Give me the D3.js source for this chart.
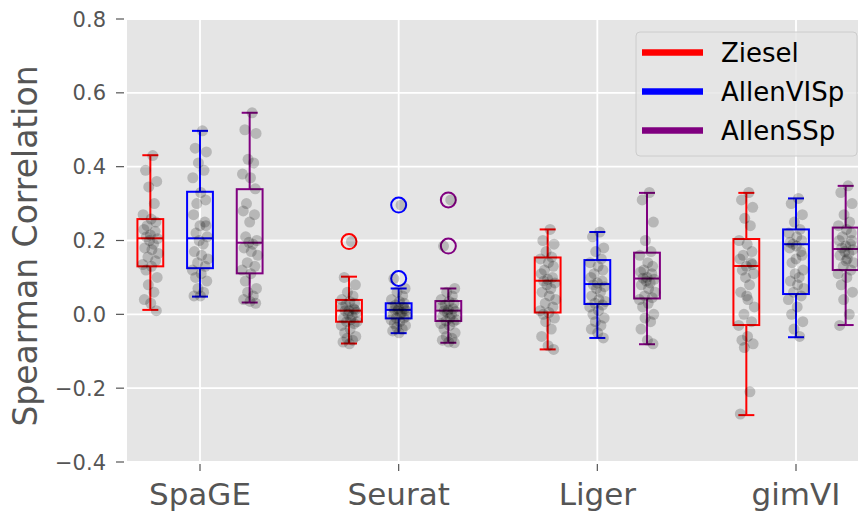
<!DOCTYPE html>
<html>
<head>
<meta charset="utf-8">
<script src="https://cdn.jsdelivr.net/npm/d3@7"></script>
<style>
  body { margin: 0; background: #ffffff; }
  svg { display: block; font-family: "DejaVu Sans", sans-serif; }
</style>
</head>
<body>
<svg id="chart" width="858" height="513"></svg>
<script>
// categories
var methods = ["SpaGE", "Seurat", "Liger", "gimVI"];
var datasets = ["Ziesel", "AllenVISp", "AllenSSp"];
var yTicks = [-0.4, -0.2, 0.0, 0.2, 0.4, 0.6, 0.8];

// box stats per dataset: [whisker low, q1, median, q3, whisker high]
var spageBoxes = [[0.012, 0.130, 0.206, 0.258, 0.431], [0.048, 0.125, 0.206, 0.332, 0.497], [0.032, 0.111, 0.194, 0.339, 0.546]];
var seuratBoxes = [[-0.079, -0.020, 0.010, 0.039, 0.102], [-0.051, -0.011, 0.012, 0.030, 0.070], [-0.077, -0.018, 0.010, 0.036, 0.070]];
var ligerBoxes = [[-0.095, 0.005, 0.091, 0.154, 0.230], [-0.064, 0.028, 0.082, 0.147, 0.223], [-0.081, 0.043, 0.097, 0.167, 0.329]];
var gimviBoxes = [[-0.273, -0.029, 0.131, 0.204, 0.329], [-0.062, 0.055, 0.190, 0.230, 0.314], [-0.029, 0.120, 0.177, 0.235, 0.348]];

// outliers
var spageFliers = [[], [], []];
var seuratFliers = [[0.197], [0.296, 0.097], [0.310, 0.185]];
var ligerFliers = [[], [], []];
var gimviFliers = [[], [], []];

// per-gene correlations (dots)
var spagePoints = [
  [0.43, 0.39, 0.36, 0.345, 0.30, 0.27, 0.258, 0.25, 0.24, 0.23, 0.225, 0.215, 0.21, 0.205, 0.20, 0.19, 0.18, 0.175, 0.165, 0.155, 0.145, 0.135, 0.13, 0.12, 0.10, 0.08, 0.06, 0.04, 0.03, 0.01],
  [0.497, 0.45, 0.44, 0.41, 0.39, 0.37, 0.33, 0.31, 0.30, 0.27, 0.25, 0.24, 0.22, 0.21, 0.20, 0.19, 0.17, 0.16, 0.15, 0.14, 0.13, 0.12, 0.11, 0.10, 0.09, 0.07, 0.06, 0.05, 0.05, 0.24],
  [0.546, 0.50, 0.49, 0.42, 0.41, 0.38, 0.37, 0.34, 0.30, 0.28, 0.27, 0.25, 0.21, 0.20, 0.195, 0.19, 0.18, 0.17, 0.16, 0.14, 0.13, 0.12, 0.11, 0.09, 0.07, 0.06, 0.05, 0.04, 0.035, 0.03]
];
var seuratPoints = [
  [0.197, 0.10, 0.08, 0.06, 0.05, 0.04, 0.035, 0.03, 0.025, 0.02, 0.015, 0.01, 0.01, 0.005, 0.0, -0.005, -0.01, -0.015, -0.02, -0.02, -0.025, -0.03, -0.04, -0.05, -0.06, -0.065, -0.07, -0.075, -0.08, 0.012],
  [0.296, 0.097, 0.07, 0.06, 0.05, 0.04, 0.035, 0.03, 0.025, 0.02, 0.02, 0.015, 0.012, 0.01, 0.01, 0.005, 0.0, 0.0, -0.005, -0.01, -0.01, -0.015, -0.02, -0.025, -0.03, -0.035, -0.04, -0.045, -0.05, 0.015],
  [0.31, 0.185, 0.07, 0.06, 0.05, 0.04, 0.035, 0.03, 0.025, 0.02, 0.015, 0.012, 0.01, 0.008, 0.005, 0.0, -0.005, -0.01, -0.015, -0.018, -0.02, -0.025, -0.03, -0.04, -0.05, -0.06, -0.065, -0.07, -0.075, -0.077]
];
var ligerPoints = [
  [0.23, 0.20, 0.19, 0.17, 0.155, 0.15, 0.14, 0.13, 0.12, 0.11, 0.10, 0.095, 0.09, 0.085, 0.08, 0.07, 0.06, 0.05, 0.04, 0.03, 0.02, 0.01, 0.005, 0.0, -0.01, -0.02, -0.04, -0.06, -0.085, -0.095],
  [0.223, 0.21, 0.18, 0.17, 0.15, 0.14, 0.13, 0.12, 0.11, 0.10, 0.09, 0.085, 0.08, 0.075, 0.07, 0.06, 0.05, 0.04, 0.035, 0.03, 0.025, 0.02, 0.01, 0.0, -0.01, -0.02, -0.03, -0.04, -0.05, -0.064],
  [0.33, 0.31, 0.25, 0.20, 0.17, 0.16, 0.14, 0.13, 0.12, 0.115, 0.11, 0.10, 0.098, 0.095, 0.09, 0.085, 0.08, 0.07, 0.06, 0.05, 0.045, 0.04, 0.03, 0.02, 0.0, -0.01, -0.02, -0.04, -0.07, -0.08]
];
var gimviPoints = [
  [0.33, 0.31, 0.29, 0.26, 0.24, 0.20, 0.19, 0.17, 0.16, 0.15, 0.14, 0.13, 0.12, 0.11, 0.10, 0.08, 0.06, 0.04, 0.02, 0.0, -0.02, -0.03, -0.06, -0.07, -0.08, -0.09, -0.21, -0.27, 0.05, 0.135],
  [0.314, 0.30, 0.27, 0.25, 0.23, 0.22, 0.21, 0.20, 0.19, 0.18, 0.17, 0.15, 0.14, 0.12, 0.11, 0.10, 0.09, 0.08, 0.07, 0.06, 0.05, 0.04, 0.02, 0.0, -0.02, -0.04, -0.06, 0.195, 0.185, 0.16],
  [0.348, 0.33, 0.30, 0.27, 0.25, 0.24, 0.23, 0.22, 0.21, 0.20, 0.19, 0.185, 0.18, 0.175, 0.17, 0.165, 0.16, 0.15, 0.14, 0.13, 0.12, 0.11, 0.10, 0.08, 0.06, 0.04, 0.0, -0.03, 0.145, 0.2]
];

var boxes = [spageBoxes, seuratBoxes, ligerBoxes, gimviBoxes];
var fliers = [spageFliers, seuratFliers, ligerFliers, gimviFliers];
var points = [spagePoints, seuratPoints, ligerPoints, gimviPoints];

// fixed strip jitter pattern (fraction of spread), reused for every box
var jitter = [0.3, -0.6, 0.8, -0.2, 0.5, -0.9, 0.1, 0.7, -0.4, -0.8, 0.6, 0.0, -0.5, 0.9, -0.1, 0.4, -0.7, 0.2, 1.0, -0.3, 0.65, -0.95, 0.15, -0.55, 0.85, -0.25, 0.45, -0.75, 0.05, 0.75];

var colors = ["#ff0000", "#0000ff", "#800080"];
var dodge = [-0.25, 0, 0.25];

var svg = d3.select("#chart");
var plot = { left: 127, top: 19, right: 870, bottom: 462 };

var x = d3.scaleLinear().domain([1, 4]).range([200, 796]);
var y = d3.scaleLinear().domain([-0.4, 0.8]).range([plot.bottom, plot.top]);
var halfW = x(1.065) - x(1);

svg.append("rect")
  .attr("x", plot.left).attr("y", plot.top)
  .attr("width", plot.right - plot.left).attr("height", plot.bottom - plot.top)
  .attr("fill", "#e5e5e5");

// grid
svg.append("g").selectAll("line").data(yTicks).enter().append("line")
  .attr("x1", plot.left).attr("x2", plot.right)
  .attr("y1", function (d) { return y(d); }).attr("y2", function (d) { return y(d); })
  .attr("stroke", "#ffffff").attr("stroke-width", 1.8);
svg.append("g").selectAll("line").data(methods).enter().append("line")
  .attr("x1", function (d, i) { return x(i + 1); }).attr("x2", function (d, i) { return x(i + 1); })
  .attr("y1", plot.top).attr("y2", plot.bottom)
  .attr("stroke", "#ffffff").attr("stroke-width", 1.8);

// y axis
var fmt = d3.format(".1f");
var yAxis = svg.append("g").attr("class", "yaxis");
yAxis.selectAll("line").data(yTicks).enter().append("line")
  .attr("x1", 116).attr("x2", 124)
  .attr("y1", function (d) { return y(d); }).attr("y2", function (d) { return y(d); })
  .attr("stroke", "#555555").attr("stroke-width", 1.2);
yAxis.selectAll("text").data(yTicks).enter().append("text")
  .attr("x", 106).attr("y", function (d) { return y(d) + 7.5; })
  .attr("text-anchor", "end").attr("font-size", 21).attr("fill", "#555555")
  .text(function (d) { return fmt(d); });

// x axis
var xAxis = svg.append("g").attr("class", "xaxis");
xAxis.selectAll("line").data(methods).enter().append("line")
  .attr("x1", function (d, i) { return x(i + 1); }).attr("x2", function (d, i) { return x(i + 1); })
  .attr("y1", 464).attr("y2", 471)
  .attr("stroke", "#555555").attr("stroke-width", 1.2);
xAxis.selectAll("text").data(methods).enter().append("text")
  .attr("x", function (d, i) { return x(i + 1); }).attr("y", 505)
  .attr("text-anchor", "middle").attr("font-size", 31).attr("fill", "#555555")
  .text(function (d) { return d; });

svg.append("text")
  .attr("transform", "translate(37,246) rotate(-90)")
  .attr("text-anchor", "middle").attr("font-size", 33).attr("fill", "#555555")
  .text("Spearman Correlation");

// boxes
var gBox = svg.append("g");
methods.forEach(function (m, mi) {
  datasets.forEach(function (ds, di) {
    var s = boxes[mi][di];
    var cx = x(mi + 1 + dodge[di]);
    var c = colors[di];
    var g = gBox.append("g").attr("stroke", c).attr("stroke-width", 2).attr("fill", "none");
    g.append("line").attr("x1", cx).attr("x2", cx).attr("y1", y(s[0])).attr("y2", y(s[1]));
    g.append("line").attr("x1", cx).attr("x2", cx).attr("y1", y(s[3])).attr("y2", y(s[4]));
    g.append("line").attr("x1", cx - 8).attr("x2", cx + 8).attr("y1", y(s[0])).attr("y2", y(s[0]));
    g.append("line").attr("x1", cx - 8).attr("x2", cx + 8).attr("y1", y(s[4])).attr("y2", y(s[4]));
    g.append("rect").attr("x", cx - halfW).attr("width", 2 * halfW)
      .attr("y", y(s[3])).attr("height", y(s[1]) - y(s[3]));
    g.append("line").attr("x1", cx - halfW).attr("x2", cx + halfW).attr("y1", y(s[2])).attr("y2", y(s[2]));
    g.selectAll("circle").data(fliers[mi][di]).enter().append("circle")
      .attr("cx", cx).attr("cy", function (d) { return y(d); }).attr("r", 7.5);
  });
});

// jittered dots
var gPts = svg.append("g");
methods.forEach(function (m, mi) {
  datasets.forEach(function (ds, di) {
    var cx = x(mi + 1 + dodge[di]);
    gPts.selectAll(null).data(points[mi][di]).enter().append("circle")
      .attr("cx", function (d, i) { return cx + 8 * jitter[i % jitter.length]; })
      .attr("cy", function (d) { return y(d); })
      .attr("r", 5.5)
      .attr("fill", "#000000").attr("fill-opacity", 0.2);
  });
});

// legend
var lg = svg.append("g");
lg.append("rect").attr("x", 636).attr("y", 32).attr("width", 221).attr("height", 124)
  .attr("rx", 4).attr("fill", "#e5e5e5").attr("fill-opacity", 0.8)
  .attr("stroke", "#cccccc").attr("stroke-width", 1);
datasets.forEach(function (ds, di) {
  var ly = 52.5 + di * 39;
  lg.append("line").attr("x1", 642).attr("x2", 703).attr("y1", ly).attr("y2", ly)
    .attr("stroke", colors[di]).attr("stroke-width", 6.5);
  lg.append("text").attr("x", 721).attr("y", ly + 9.5)
    .attr("font-size", 26).attr("fill", "#000000").text(ds);
});
</script>
</body>
</html>
